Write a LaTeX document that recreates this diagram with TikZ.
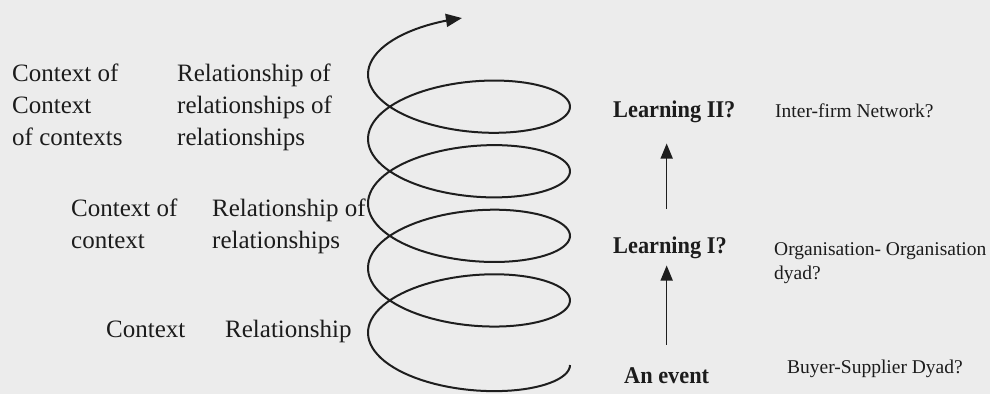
\documentclass[tikz,border=0pt]{standalone}
\usepackage{fontspec}
\setmainfont{Liberation Serif}
\newfontfamily\boldcond{Liberation Serif}[FakeStretch=0.93]
\usetikzlibrary{arrows.meta,calc}
\definecolor{bg}{RGB}{236,236,236}
\definecolor{ink}{RGB}{28,28,28}
\definecolor{line}{RGB}{30,30,30}
\tikzset{
  lbl/.style={font=\fontsize{25}{32}\selectfont, align=left, inner sep=0pt, text=ink, anchor=base west},
  rlbl/.style={font=\fontsize{19.5}{23.5}\selectfont, align=left, inner sep=0pt, text=ink, anchor=base west},
  blbl/.style={font=\boldcond\bfseries\fontsize{24}{28}\selectfont, inner sep=0pt, text=ink, anchor=base west},
  uparrow/.style={line width=1.5pt, draw=line, -{Triangle[length=15pt,width=12pt]}},
  helix/.style={line width=2pt, draw=line, -{Triangle[length=16pt,width=13pt]}}
}
\begin{document}
\begin{tikzpicture}[x=1pt,y=-1pt]
\useasboundingbox (0,0) rectangle (990,394);
\fill[bg] (0,0) rectangle (990,394);

% spiral
\draw[helix] plot[domain=0:1706, samples=420]
  ({469+101*cos(\x)},{365-0.1794*\x+41*sin(\x)});

% left labels (anchor = baseline of the last line)
\node[lbl] (ctx3) at (12,145) {Context of\\Context\\of contexts};
\node[lbl] (rel3) at (177,145) {Relationship of\\relationships of\\relationships};
\node[lbl] (ctx2) at (71,248) {Context of\\context};
\node[lbl] (rel2) at (212,248) {Relationship of\\relationships};
\node[lbl] (ctx1) at (106,337) {Context};
\node[lbl] (rel1) at (225,337) {Relationship};

% right labels
\node[blbl] (L2) at (613,117) {Learning II?};
\node[rlbl] (net) at (775,117) {Inter-firm Network?};
\node[blbl] (L1) at (613,253) {Learning I?};
\node[rlbl] (org) at (774,279) {Organisation- Organisation\\dyad?};
\node[blbl] (event) at (624,383) {An event};
\node[rlbl] (bsd) at (787,373) {Buyer-Supplier Dyad?};

% arrows
\draw[uparrow, shorten <=22pt, shorten >=7pt] (event.north) -- (event.north |- L1.south);
\draw[uparrow, shorten <=27pt, shorten >=21pt] (event.north |- L1.north) -- (event.north |- L2.south);
\end{tikzpicture}
\end{document}
